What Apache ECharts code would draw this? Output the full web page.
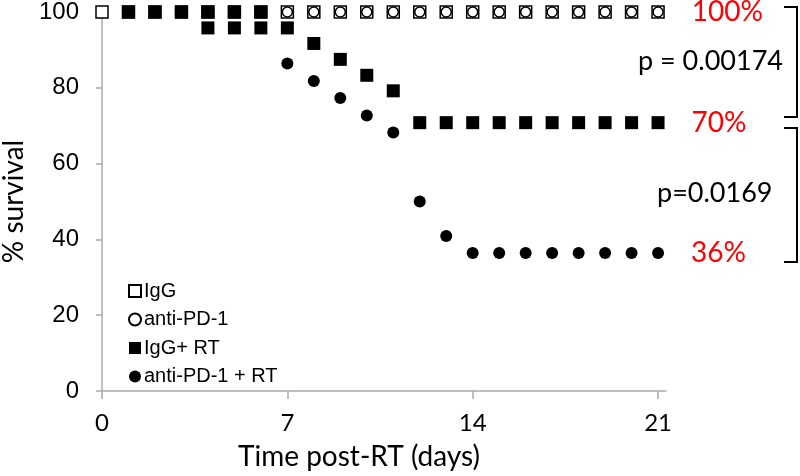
<!DOCTYPE html>
<html><head><meta charset="utf-8">
<script src="https://cdn.jsdelivr.net/npm/echarts@6/dist/echarts.min.js"></script>
<style>html,body{margin:0;padding:0;background:#fff}#c{width:800px;height:476px}</style>
</head><body><div id="c"></div>
<script>
const seriesNames = ['IgG', 'anti-PD-1', 'IgG+ RT', 'anti-PD-1 + RT'];
const iggDays = [0,1,2,3,4,5,6,7,8,9,10,11,12,13,14,15,16,17,18,19,20,21];
const iggValues = [100,100,100,100,100,100,100,100,100,100,100,100,100,100,100,100,100,100,100,100,100,100];
const antiPd1Days = [1,2,3,4,5,6,7,8,9,10,11,12,13,14,15,16,17,18,19,20,21];
const antiPd1Values = [100,100,100,100,100,100,100,100,100,100,100,100,100,100,100,100,100,100,100,100,100];
const iggRtDays = [1,2,3,4,5,6,4,5,6,7,8,9,10,11,12,13,14,15,16,17,18,19,20,21];
const iggRtValues = [100,100,100,100,100,100,95.8,95.8,95.8,95.8,91.7,87.5,83.3,79.2,70.8,70.8,70.8,70.8,70.8,70.8,70.8,70.8,70.8,70.8];
const antiPd1RtDays = [7,8,9,10,11,12,13,14,15,16,17,18,19,20,21];
const antiPd1RtValues = [86.4,81.8,77.3,72.7,68.2,50,40.9,36.4,36.4,36.4,36.4,36.4,36.4,36.4,36.4];
const xTickLabels = [0, 7, 14, 21];
const endLabels = ['100%', '70%', '36%'];
const pValueTexts = ['p = 0.00174', 'p=0.0169'];

const calibriLike = 'Lato';

function pairs(days, vals, endLabel) {
  return days.map((d, i) => {
    const item = { value: [d, vals[i]] };
    if (endLabel && i === days.length - 1) {
      item.label = {
        show: true, position: 'right', distance: 27, formatter: endLabel,
        color: '#ff0000', fontFamily: calibriLike, fontSize: 28
      };
    }
    return item;
  });
}

const chart = echarts.init(document.getElementById('c'), null, { renderer: 'canvas' });
chart.setOption({
  animation: false,
  backgroundColor: '#fff',
  grid: { left: 102, right: 134, top: 12, bottom: 85, containLabel: false, outerBoundsMode: 'none' },
  xAxis: {
    type: 'value', min: 0, max: 21.3,
    name: 'Time post-RT (days)', nameLocation: 'middle', nameGap: 52,
    nameTextStyle: { fontFamily: calibriLike, fontSize: 28, color: '#000', padding: [0, 50, 0, 0] },
    axisLine: { show: true, lineStyle: { color: '#ababab', width: 1.5 } },
    axisTick: { show: true, length: 8, lineStyle: { color: '#ababab', width: 1.5 }, customValues: xTickLabels },
    axisLabel: { fontFamily: calibriLike, fontSize: 24, color: '#000', margin: 20, customValues: xTickLabels },
    splitLine: { show: false }
  },
  yAxis: {
    type: 'value', min: 0, max: 100, interval: 20,
    name: '% survival', nameLocation: 'middle', nameGap: 72,
    nameTextStyle: { fontFamily: calibriLike, fontSize: 28, color: '#000' },
    axisLine: { show: true, lineStyle: { color: '#ababab', width: 1.5 } },
    axisTick: { show: true, length: 6, lineStyle: { color: '#ababab', width: 1.5 } },
    axisLabel: { fontFamily: 'Liberation Sans', fontSize: 24, color: '#000', margin: 23 },
    splitLine: { show: false }
  },
  legend: {
    orient: 'vertical', left: 123, top: 276, itemGap: 8.5, padding: 5,
    itemWidth: 12, itemHeight: 12,
    textStyle: { fontFamily: 'Liberation Sans', fontSize: 20, color: '#000', padding: [0, 0, 0, -2] },
    data: seriesNames
  },
  series: [
    {
      name: seriesNames[0], type: 'scatter', clip: false, z: 2,
      symbol: 'rect', symbolSize: 12,
      itemStyle: { color: '#fff', borderColor: '#000', borderWidth: 1.5, opacity: 1 },
      data: pairs(iggDays, iggValues, endLabels[0])
    },
    {
      name: seriesNames[1], type: 'scatter', clip: false, z: 3,
      symbol: 'circle', symbolSize: 10,
      itemStyle: { color: '#fff', borderColor: '#000', borderWidth: 1.5, opacity: 1 },
      data: pairs(antiPd1Days, antiPd1Values)
    },
    {
      name: seriesNames[2], type: 'scatter', clip: false, z: 4,
      symbol: 'rect', symbolSize: 13,
      itemStyle: { color: '#000', opacity: 1 },
      data: pairs(iggRtDays, iggRtValues, endLabels[1])
    },
    {
      name: seriesNames[3], type: 'scatter', clip: false, z: 5,
      symbol: 'circle', symbolSize: 12,
      itemStyle: { color: '#000', opacity: 1 },
      data: pairs(antiPd1RtDays, antiPd1RtValues, endLabels[2])
    }
  ],
  graphic: [
    { type: 'text', left: 638, top: 48, style: { text: pValueTexts[0], font: '27px Lato', fill: '#000' } },
    { type: 'text', left: 657, top: 180, style: { text: pValueTexts[1], font: '27px Lato', fill: '#000' } },
    { type: 'polyline', shape: { points: [[784, 7], [797, 7], [797, 117], [784, 117]] }, style: { stroke: '#000', lineWidth: 2, fill: null } },
    { type: 'polyline', shape: { points: [[784, 128], [797, 128], [797, 262], [784, 262]] }, style: { stroke: '#000', lineWidth: 2, fill: null } }
  ]
});
</script></body></html>
